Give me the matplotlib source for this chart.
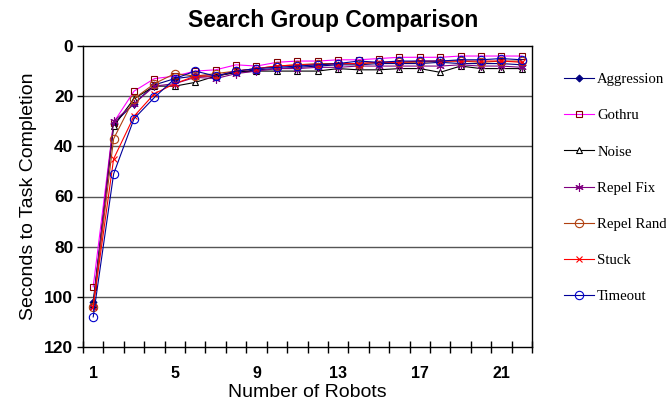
import matplotlib
matplotlib.use('Agg')
import matplotlib.pyplot as plt

robots = list(range(1, 23))
aggression = [102, 31, 23, 15.5, 13, 12, 12, 10.5, 9.5, 9, 8.5, 8, 7.5, 7.5, 7, 7, 7, 6.5, 7, 7, 7, 7.5]
gothru = [96, 30.5, 18, 13, 12, 10, 9.5, 7.5, 8, 6.5, 6, 6, 5.5, 5.5, 5, 4.5, 4.5, 4.5, 4, 4, 4, 4]
noise = [103, 32, 21, 16, 16, 14.5, 12, 10.5, 10, 10, 10, 10, 9, 9.5, 9.5, 9, 9, 10.5, 8, 9, 9, 9]
repel_fix = [104, 30, 23, 16, 15, 12.5, 13, 11, 10, 9, 9, 8.5, 8.5, 8, 8, 8, 8, 8, 7.5, 8, 8, 8.5]
repel_rand = [104, 37, 21, 15, 11, 12, 11, 10, 9, 8, 7.5, 7, 7, 7, 6.5, 6.5, 6.5, 6, 6, 6.5, 6, 6]
stuck = [104, 45, 28, 19, 15, 12, 12, 10, 9, 8, 7.5, 7.5, 7, 7, 6.5, 6.5, 6, 6, 6, 6, 6, 6.5]
timeout = [108, 51, 29, 20.5, 13, 10, 12, 10, 9, 8.5, 8, 7.5, 7, 6, 6.5, 6, 6, 6, 5.5, 5.5, 5, 5.5]

y_ticks = [0, 20, 40, 60, 80, 100, 120]
x_labels = [1, 5, 9, 13, 17, 21]

plt.rcParams['font.family'] = ['Liberation Sans', 'DejaVu Sans']

fig = plt.figure(figsize=(6.66, 4.04), dpi=100)
ax = fig.add_axes([83/666, 1-347/404, (532-83)/666, (347-46)/404])

# series: label, data, line colour, marker, marker edge, marker face, size
series = [
    ('Aggression', aggression, '#000080', 'D', '#000080', '#000080', 3.5),
    ('Gothru', gothru, '#FF00FF', 's', '#800000', 'none', 5),
    ('Noise', noise, '#000000', '^', '#000000', 'white', 5),
    ('Repel Fix', repel_fix, '#800080', (6, 2, 0), '#800080', '#800080', 6),
    ('Repel Rand', repel_rand, '#B04010', 'o', '#B04010', 'none', 6),
    ('Stuck', stuck, '#FF0000', 'x', '#FF0000', '#FF0000', 5),
    ('Timeout', timeout, '#000099', 'o', '#0000CC', 'none', 6),
]
for name, vals, col, mk, mec, mfc, ms in series:
    ax.plot(robots, vals, color=col, lw=0.8, marker=mk, markeredgecolor=mec,
            markerfacecolor=mfc, markersize=ms, markeredgewidth=0.8, label=name)

ax.set_ylim(120, 0)
ax.set_xlim(0.5, 22.5)
ax.set_yticks(y_ticks)
for v in y_ticks[1:-1]:
    ax.axhline(v, color='#555555', lw=1, zorder=0)

ax.set_xticks(x_labels)
ax.set_xticks([k + 0.5 for k in range(0, 23)], minor=True)
ax.tick_params(axis='x', which='major', length=0, pad=14, labelsize=11.5)
ax.tick_params(axis='x', which='minor', direction='inout', length=8, width=1)
ax.tick_params(axis='y', direction='out', length=4, width=1, labelsize=12.5, pad=3)
for lab in ax.get_xticklabels() + ax.get_yticklabels():
    lab.set_fontweight('bold')

for s in ax.spines.values():
    s.set_linewidth(1)
    s.set_color('black')

ax.set_xlabel('Number of Robots', fontsize=14, labelpad=2)
ax.set_ylabel('Seconds to Task Completion', fontsize=14, labelpad=5)
fig.text(0.5, 1-20/404, 'Search Group Comparison', ha='center', va='center',
         fontsize=16.5, fontweight='bold')

fig.legend(loc='upper left', bbox_to_anchor=(564/666, 1-73/404), frameon=False,
           prop={'family': 'Liberation Serif', 'size': 10.6}, labelspacing=1.55,
           handlelength=2.05, handletextpad=0.2, borderpad=0, borderaxespad=0)

fig.savefig('out.png', dpi=100)
